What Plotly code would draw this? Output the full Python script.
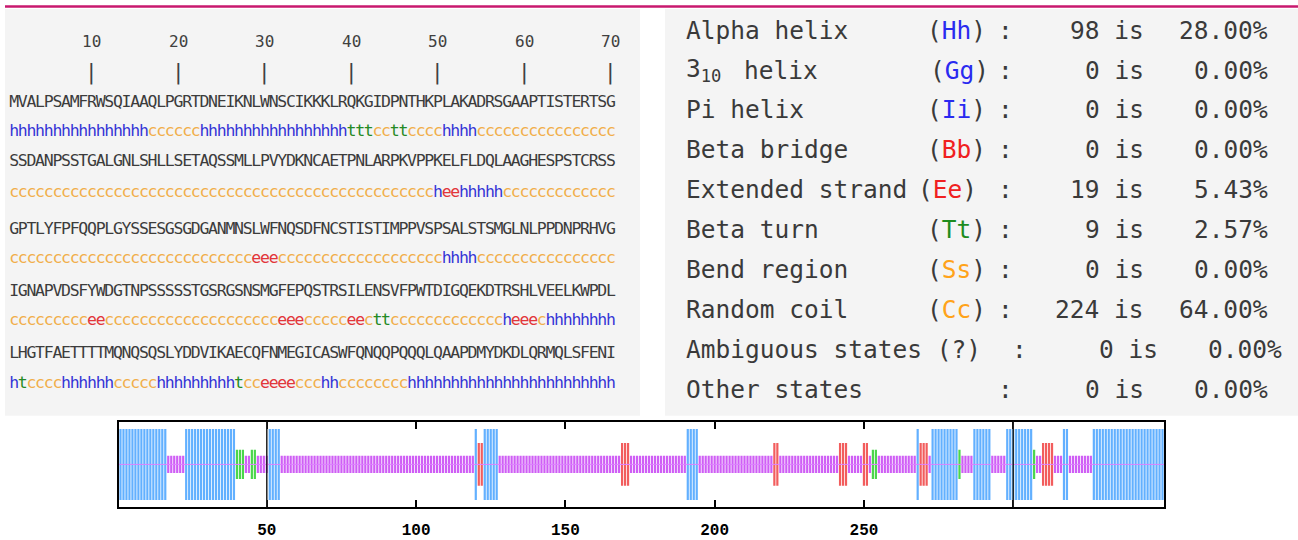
import plotly.graph_objects as go

# ---------------- data ----------------
seq_lines = [
    "MVALPSAMFRWSQIAAQLPGRTDNEIKNLWNSCIKKKLRQKGIDPNTHKPLAKADRSGAAPTISTERTSG",
    "SSDANPSSTGALGNLSHLLSETAQSSMLLPVYDKNCAETPNLARPKVPPKELFLDQLAAGHESPSTCRSS",
    "GPTLYFPFQQPLGYSSESGSGDGANMNSLWFNQSDFNCSTISTIMPPVSPSALSTSMGLNLPPDNPRHVG",
    "IGNAPVDSFYWDGTNPSSSSSTGSRGSNSMGFEPQSTRSILENSVFPWTDIGQEKDTRSHLVEELKWPDL",
    "LHGTFAETTTTMQNQSQSLYDDVIKAECQFNMEGICASWFQNQQPQQQLQAAPDMYDKDLQRMQLSFENI",
]
ss_lines = [
    "hhhhhhhhhhhhhhhh" "cccccc" "hhhhhhhhhhhhhhhhh" "tttcctt" "cccc" "hhhh" "cccccccccccccccc",
    "cccccccccc" "cccccccccc" "cccccccccc" "cccccccccc" "ccccccccc" "heehhhhh" "ccccccccccccc",
    "cccccccccc" "cccccccccc" "cccccccc" "eee" "cccccccccc" "ccccccccc" "hhhh" "cccccccccc" "cccccc",
    "ccccccccc" "ee" "cccccccccc" "cccccccccc" "eee" "ccccc" "ee" "c" "tt" "ccccccccccccc" "h" "eee" "c" "hhhhhhhh",
    "ht" "cccc" "hhhhhh" "ccccc" "hhhhhhhhh" "t" "cc" "eeee" "ccc" "hh" "cccccccc" "hhhhhhhhhhhh" "hhhhhhhhhhhh",
]
ruler_ticks = [10, 20, 30, 40, 50, 60, 70]

state_names = ["Alpha helix", "3<sub>10</sub>", "Pi helix", "Beta bridge", "Extended strand",
               "Beta turn", "Bend region", "Random coil", "Ambiguous states (?)", "Other states"]
state_codes = ["Hh", "Gg", "Ii", "Bb", "Ee", "Tt", "Ss", "Cc", "", ""]
state_counts = [98, 0, 0, 0, 19, 9, 0, 224, 0, 0]
state_percents = [28.00, 0.00, 0.00, 0.00, 5.43, 2.57, 0.00, 64.00, 0.00, 0.00]

bar_ticks = [50, 100, 150, 200, 250, 300]
bar_tick_text = ["50", "100", "150", "200", "250", ""]
full_lines = [50, 300]

for s, q in zip(ss_lines, seq_lines):
    assert len(s) == 70 and len(q) == 70, (len(s), len(q))

# ---------------- styles ----------------
ss_text_color = {"h": "#3434d6", "e": "#e2363a", "t": "#248a24", "c": "#f1ae4a"}
bar_color = {"h": "#62b0ff", "e": "#f25d5d", "t": "#4bd64b", "c": "#cf5ef5"}
bar_half = {"h": 0.83, "e": 0.5, "t": 0.34, "c": 0.2}
code_color = {"H": "#2a2af0", "G": "#2a2af0", "I": "#2a2af0", "B": "#f02020", "E": "#f02020",
              "T": "#1e8c1e", "S": "#ffa31a", "C": "#ffa31a"}
TXT = "#3a3a3a"
MONO = "DejaVu Sans Mono"

W, H = 1298, 540
pitch, x_first = 8.65, 14.1
seq_y = [103.5, 162.5, 231.5, 294, 356]
ss_y = [132.5, 194, 260.5, 323, 386]
row_y0, row_dy = 30.2, 40.2

fig = go.Figure()

# ---------------- secondary structure "bars" (one stripe per residue) ----------------
ss_all = "".join(ss_lines)
for cls in ["c", "t", "e", "h"]:
    xs, ys = [], []
    for i, ch in enumerate(ss_all):
        if ch == cls:
            xs += [i + 1, i + 1, None]
            ys += [-bar_half[cls], bar_half[cls], None]
    fig.add_trace(go.Scatter(
        x=xs, y=ys, mode="lines", line=dict(color=bar_color[cls], width=2.2),
        connectgaps=False, xaxis="x", yaxis="y", showlegend=False, hoverinfo="skip"))

# ---------------- sequence panel (pixel overlay axes) ----------------
sx, sy, st, sc = [], [], [], []
for r, (q, s) in enumerate(zip(seq_lines, ss_lines)):
    for i, ch in enumerate(q):
        sx.append(x_first + i * pitch); sy.append(seq_y[r]); st.append(ch); sc.append("#3c3c3c")
    for i, ch in enumerate(s):
        sx.append(x_first + i * pitch); sy.append(ss_y[r]); st.append(ch); sc.append(ss_text_color[ch])
fig.add_trace(go.Scatter(
    x=sx, y=sy, text=st, mode="text", textposition="middle center",
    textfont=dict(family=MONO, size=16.5, color=sc), cliponaxis=False,
    xaxis="x2", yaxis="y2", showlegend=False, hoverinfo="skip"))

annotations = []
for t in ruler_ticks:
    xp = x_first + (t - 1) * pitch
    annotations.append(dict(x=xp, y=42, xref="x2", yref="y2", text=str(t), showarrow=False,
                            xanchor="center", yanchor="middle",
                            font=dict(family=MONO, size=16, color="#404040")))
    annotations.append(dict(x=xp, y=73, xref="x2", yref="y2", text="|", showarrow=False,
                            xanchor="center", yanchor="middle",
                            font=dict(family=MONO, size=21, color="#404040")))

# ---------------- statistics panel ----------------
for k, name in enumerate(state_names):
    y = row_y0 + k * row_dy
    f = dict(family=MONO, size=24.5, color=TXT)
    annotations.append(dict(x=684, y=y, xref="x2", yref="y2", text=name, showarrow=False,
                            xanchor="left", yanchor="middle", font=f))
    if k == 1:
        annotations.append(dict(x=742, y=y, xref="x2", yref="y2", text="helix", showarrow=False,
                                xanchor="left", yanchor="middle", font=f))
    code = state_codes[k]
    if code:
        cx = 916 if code == "Ee" else (928 if code == "Gg" else 925)
        annotations.append(dict(
            x=cx, y=y, xref="x2", yref="y2", showarrow=False, xanchor="left", yanchor="middle", font=f,
            text="(<span style='color:%s'>%s</span>)" % (code_color[code[0]], code)))
    shift = 14 if k == 8 else 0
    annotations.append(dict(x=1005 + shift, y=y, xref="x2", yref="y2", text=":", showarrow=False,
                            xanchor="center", yanchor="middle", font=f))
    annotations.append(dict(x=1146 + shift, y=y, xref="x2", yref="y2",
                            text="%d is" % state_counts[k], showarrow=False,
                            xanchor="right", yanchor="middle", font=f))
    annotations.append(dict(x=1270 + shift, y=y, xref="x2", yref="y2",
                            text="%.2f%%" % state_percents[k], showarrow=False,
                            xanchor="right", yanchor="middle", font=f))

shapes = [
    dict(type="rect", xref="x2", yref="y2", x0=5, x1=640, y0=9, y1=418,
         fillcolor="#f4f4f4", line=dict(width=0), layer="below"),
    dict(type="rect", xref="x2", yref="y2", x0=665, x1=1298, y0=9, y1=418,
         fillcolor="#f4f4f4", line=dict(width=0), layer="below"),
    dict(type="line", xref="x2", yref="y2", x0=5, x1=1298, y0=6.5, y1=6.5,
         line=dict(color="#c8186e", width=2.5)),
    dict(type="line", xref="x domain", yref="y", x0=0, x1=1, y0=0, y1=0,
         line=dict(color="#dd80ff", width=1), layer="above"),
]
for v in full_lines:
    shapes.append(dict(type="line", xref="x", yref="y domain", x0=v, x1=v, y0=0, y1=1,
                       line=dict(color="#222", width=1.5), layer="above"))

fig.update_layout(
    width=W, height=H, autosize=False,
    margin=dict(l=0, r=0, t=0, b=0),
    paper_bgcolor="white", plot_bgcolor="rgba(0,0,0,0)",
    hovermode=False,
    xaxis=dict(domain=[119 / W, 1164 / W], range=[0.5, 350.5], anchor="y",
               showline=True, linecolor="black", linewidth=2, mirror="ticks",
               ticks="inside", ticklen=7, tickwidth=2, tickcolor="black",
               tickvals=bar_ticks, ticktext=bar_tick_text, ticklabelstandoff=7,
               tickfont=dict(family="Liberation Mono", size=16, color="black", weight="bold"),
               showgrid=False, zeroline=False, fixedrange=True),
    yaxis=dict(domain=[(H - 510) / H, (H - 424) / H], range=[-1, 1], anchor="x",
               showline=True, linecolor="black", linewidth=2, mirror=True,
               ticks="", showticklabels=False, showgrid=False, zeroline=False, fixedrange=True),
    xaxis2=dict(domain=[0, 1], range=[0, W], anchor="y2", visible=False, fixedrange=True),
    yaxis2=dict(domain=[0, 1], range=[H, 0], anchor="x2", visible=False, fixedrange=True),
    annotations=annotations, shapes=shapes,
)

fig.write_html("out.html")
